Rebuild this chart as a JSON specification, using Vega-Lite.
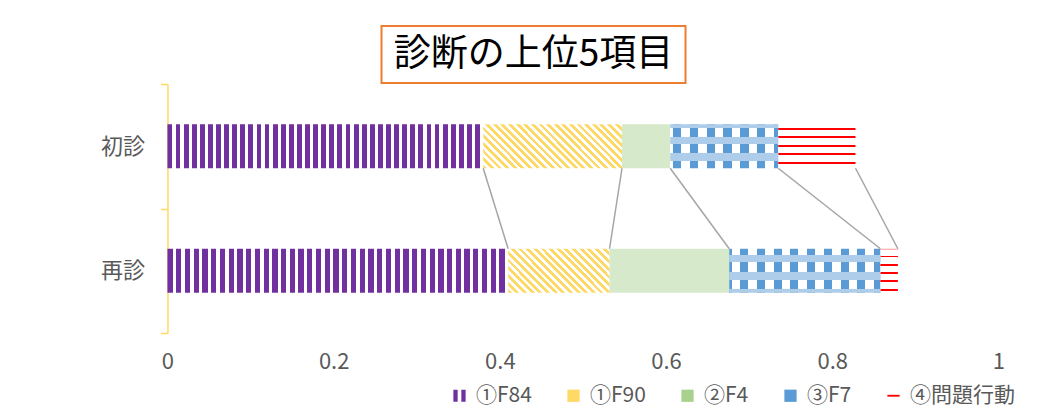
{
"$schema": "https://vega.github.io/schema/vega-lite/v6.json",
"background": "white",
"padding": {"left": 100, "top": 25, "right": 0, "bottom": 6},
"autosize": {"type": "pad"},
"config": {"font": "Noto Sans CJK JP", "view": {"stroke": null}},
"datasets": {
 "main": [
  {"group": "初診", "diag": "①F84", "value": 0.380},
  {"group": "初診", "diag": "①F90", "value": 0.167},
  {"group": "初診", "diag": "②F4", "value": 0.058},
  {"group": "初診", "diag": "③F7", "value": 0.130},
  {"group": "初診", "diag": "④問題行動", "value": 0.093},
  {"group": "再診", "diag": "①F84", "value": 0.410},
  {"group": "再診", "diag": "①F90", "value": 0.122},
  {"group": "再診", "diag": "②F4", "value": 0.144},
  {"group": "再診", "diag": "③F7", "value": 0.182},
  {"group": "再診", "diag": "④問題行動", "value": 0.021}
 ],
 "title": [{"t": "診断の上位5項目"}],
 "blank": [{"t": " "}]
},
"spacing": -12,
"center": true,
"vconcat": [
 {
  "spacing": 0,
  "hconcat": [
   {
    "data": {"name": "title"},
    "width": 304, "height": 57,
    "view": {"stroke": "#ED7D31", "strokeWidth": 2},
    "mark": {"type": "text", "fontSize": 37, "color": "#000000", "font": "Noto Sans CJK JP"},
    "encoding": {"text": {"field": "t", "type": "nominal"}}
   },
   {
    "data": {"name": "blank"},
    "width": 104, "height": 57,
    "mark": {"type": "text", "fontSize": 10, "color": "#ffffff"},
    "encoding": {"text": {"field": "t", "type": "nominal"}}
   }
  ]
 },
 {
  "data": {"name": "main"},
  "width": 831, "height": 249,
  "transform": [{"stack": "value", "groupby": ["group"], "sort": [{"field": "diag", "order": "ascending"}], "as": ["x0", "x1"]}],
  "layer": [
   {
    "mark": {"type": "bar", "height": {"band": 0.355}, "opacity": 0},
    "encoding": {
     "y": {"field": "group", "type": "nominal", "title": null,
           "scale": {"domain": ["初診", "再診"], "paddingInner": 0, "paddingOuter": 0},
           "axis": {"title": null, "domainColor": "#FFD966", "domainWidth": 1.5, "tickColor": "#FFD966", "tickWidth": 1.5, "tickSize": 7, "tickBand": "extent", "labelFontSize": 22, "labelColor": "#595959", "labelPadding": 16, "grid": false}},
     "x": {"field": "x0", "type": "quantitative", "title": null,
           "scale": {"domain": [0, 1], "nice": false},
           "axis": {"title": null, "values": [0, 0.2, 0.4, 0.6, 0.8, 1], "format": "~g", "domain": false, "ticks": false, "tickSize": 0, "grid": false, "labelFlush": false, "labelFontSize": 22, "labelColor": "#595959", "labelPadding": 18}},
     "x2": {"field": "x1"},
     "color": {"field": "diag", "type": "nominal",
               "scale": {"domain": ["①F84", "①F90", "②F4", "③F7", "④問題行動"], "range": ["#7030A0", "#FFD966", "#A9D18E", "#5B9BD5", "#FF0000"]},
               "legend": {"title": null, "orient": "none", "legendX": 282, "legendY": 359, "direction": "horizontal", "symbolType": "square", "symbolSize": 150, "symbolOpacity": 1, "labelFontSize": 21, "labelColor": "#595959", "columnPadding": 31, "labelOffset": 6, "symbolStrokeWidth": 0,
                 "encode": {"symbols": {"update": {"opacity": {"value": 1}, "shape": {"signal": "datum.value === '④問題行動' ? 'M-1,-0.15H1V0.15H-1Z' : datum.value === '①F84' ? 'M-1,-1H-0.3V1H-1ZM0.3,-1H1V1H0.3Z' : 'square'"}}}}}}
    }
   },
   {
    "mark": {"type": "bar", "height": {"band": 0.355}},
    "encoding": {
     "y": {"field": "group", "type": "nominal", "title": null},
     "x": {"field": "x0", "type": "quantitative", "title": null},
     "x2": {"field": "x1"},
     "fill": {"condition": [
      {"test": "datum.diag === '①F84'", "value": {"gradient": "linear", "x1": 0, "y1": 0, "x2": 1, "y2": 0, "stops": [
{"offset":0,"color":"#7030A0"},{"offset":0.0154,"color":"#7030A0"},{"offset":0.0154,"color":"#fff"},{"offset":0.0256,"color":"#fff"},
{"offset":0.0256,"color":"#7030A0"},{"offset":0.041,"color":"#7030A0"},{"offset":0.041,"color":"#fff"},{"offset":0.0513,"color":"#fff"},
{"offset":0.0513,"color":"#7030A0"},{"offset":0.0667,"color":"#7030A0"},{"offset":0.0667,"color":"#fff"},{"offset":0.0769,"color":"#fff"},
{"offset":0.0769,"color":"#7030A0"},{"offset":0.0923,"color":"#7030A0"},{"offset":0.0923,"color":"#fff"},{"offset":0.1026,"color":"#fff"},
{"offset":0.1026,"color":"#7030A0"},{"offset":0.1179,"color":"#7030A0"},{"offset":0.1179,"color":"#fff"},{"offset":0.1282,"color":"#fff"},
{"offset":0.1282,"color":"#7030A0"},{"offset":0.1436,"color":"#7030A0"},{"offset":0.1436,"color":"#fff"},{"offset":0.1538,"color":"#fff"},
{"offset":0.1538,"color":"#7030A0"},{"offset":0.1692,"color":"#7030A0"},{"offset":0.1692,"color":"#fff"},{"offset":0.1795,"color":"#fff"},
{"offset":0.1795,"color":"#7030A0"},{"offset":0.1949,"color":"#7030A0"},{"offset":0.1949,"color":"#fff"},{"offset":0.2051,"color":"#fff"},
{"offset":0.2051,"color":"#7030A0"},{"offset":0.2205,"color":"#7030A0"},{"offset":0.2205,"color":"#fff"},{"offset":0.2308,"color":"#fff"},
{"offset":0.2308,"color":"#7030A0"},{"offset":0.2462,"color":"#7030A0"},{"offset":0.2462,"color":"#fff"},{"offset":0.2564,"color":"#fff"},
{"offset":0.2564,"color":"#7030A0"},{"offset":0.2718,"color":"#7030A0"},{"offset":0.2718,"color":"#fff"},{"offset":0.2821,"color":"#fff"},
{"offset":0.2821,"color":"#7030A0"},{"offset":0.2974,"color":"#7030A0"},{"offset":0.2974,"color":"#fff"},{"offset":0.3077,"color":"#fff"},
{"offset":0.3077,"color":"#7030A0"},{"offset":0.3231,"color":"#7030A0"},{"offset":0.3231,"color":"#fff"},{"offset":0.3333,"color":"#fff"},
{"offset":0.3333,"color":"#7030A0"},{"offset":0.3487,"color":"#7030A0"},{"offset":0.3487,"color":"#fff"},{"offset":0.359,"color":"#fff"},
{"offset":0.359,"color":"#7030A0"},{"offset":0.3744,"color":"#7030A0"},{"offset":0.3744,"color":"#fff"},{"offset":0.3846,"color":"#fff"},
{"offset":0.3846,"color":"#7030A0"},{"offset":0.4,"color":"#7030A0"},{"offset":0.4,"color":"#fff"},{"offset":0.4103,"color":"#fff"},
{"offset":0.4103,"color":"#7030A0"},{"offset":0.4256,"color":"#7030A0"},{"offset":0.4256,"color":"#fff"},{"offset":0.4359,"color":"#fff"},
{"offset":0.4359,"color":"#7030A0"},{"offset":0.4513,"color":"#7030A0"},{"offset":0.4513,"color":"#fff"},{"offset":0.4615,"color":"#fff"},
{"offset":0.4615,"color":"#7030A0"},{"offset":0.4769,"color":"#7030A0"},{"offset":0.4769,"color":"#fff"},{"offset":0.4872,"color":"#fff"},
{"offset":0.4872,"color":"#7030A0"},{"offset":0.5026,"color":"#7030A0"},{"offset":0.5026,"color":"#fff"},{"offset":0.5128,"color":"#fff"},
{"offset":0.5128,"color":"#7030A0"},{"offset":0.5282,"color":"#7030A0"},{"offset":0.5282,"color":"#fff"},{"offset":0.5385,"color":"#fff"},
{"offset":0.5385,"color":"#7030A0"},{"offset":0.5538,"color":"#7030A0"},{"offset":0.5538,"color":"#fff"},{"offset":0.5641,"color":"#fff"},
{"offset":0.5641,"color":"#7030A0"},{"offset":0.5795,"color":"#7030A0"},{"offset":0.5795,"color":"#fff"},{"offset":0.5897,"color":"#fff"},
{"offset":0.5897,"color":"#7030A0"},{"offset":0.6051,"color":"#7030A0"},{"offset":0.6051,"color":"#fff"},{"offset":0.6154,"color":"#fff"},
{"offset":0.6154,"color":"#7030A0"},{"offset":0.6308,"color":"#7030A0"},{"offset":0.6308,"color":"#fff"},{"offset":0.641,"color":"#fff"},
{"offset":0.641,"color":"#7030A0"},{"offset":0.6564,"color":"#7030A0"},{"offset":0.6564,"color":"#fff"},{"offset":0.6667,"color":"#fff"},
{"offset":0.6667,"color":"#7030A0"},{"offset":0.6821,"color":"#7030A0"},{"offset":0.6821,"color":"#fff"},{"offset":0.6923,"color":"#fff"},
{"offset":0.6923,"color":"#7030A0"},{"offset":0.7077,"color":"#7030A0"},{"offset":0.7077,"color":"#fff"},{"offset":0.7179,"color":"#fff"},
{"offset":0.7179,"color":"#7030A0"},{"offset":0.7333,"color":"#7030A0"},{"offset":0.7333,"color":"#fff"},{"offset":0.7436,"color":"#fff"},
{"offset":0.7436,"color":"#7030A0"},{"offset":0.759,"color":"#7030A0"},{"offset":0.759,"color":"#fff"},{"offset":0.7692,"color":"#fff"},
{"offset":0.7692,"color":"#7030A0"},{"offset":0.7846,"color":"#7030A0"},{"offset":0.7846,"color":"#fff"},{"offset":0.7949,"color":"#fff"},
{"offset":0.7949,"color":"#7030A0"},{"offset":0.8103,"color":"#7030A0"},{"offset":0.8103,"color":"#fff"},{"offset":0.8205,"color":"#fff"},
{"offset":0.8205,"color":"#7030A0"},{"offset":0.8359,"color":"#7030A0"},{"offset":0.8359,"color":"#fff"},{"offset":0.8462,"color":"#fff"},
{"offset":0.8462,"color":"#7030A0"},{"offset":0.8615,"color":"#7030A0"},{"offset":0.8615,"color":"#fff"},{"offset":0.8718,"color":"#fff"},
{"offset":0.8718,"color":"#7030A0"},{"offset":0.8872,"color":"#7030A0"},{"offset":0.8872,"color":"#fff"},{"offset":0.8974,"color":"#fff"},
{"offset":0.8974,"color":"#7030A0"},{"offset":0.9128,"color":"#7030A0"},{"offset":0.9128,"color":"#fff"},{"offset":0.9231,"color":"#fff"},
{"offset":0.9231,"color":"#7030A0"},{"offset":0.9385,"color":"#7030A0"},{"offset":0.9385,"color":"#fff"},{"offset":0.9487,"color":"#fff"},
{"offset":0.9487,"color":"#7030A0"},{"offset":0.9641,"color":"#7030A0"},{"offset":0.9641,"color":"#fff"},{"offset":0.9744,"color":"#fff"},
{"offset":0.9744,"color":"#7030A0"},{"offset":0.9897,"color":"#7030A0"},{"offset":0.9897,"color":"#fff"},{"offset":1,"color":"#fff"}
      ]}},
      {"test": "datum.diag === '①F90' && datum.group === '初診'", "value": {"gradient": "linear", "x1": 0, "y1": 1, "x2": 1.1967, "y2": 0.6206, "stops": [
{"offset":0,"color":"#FFD966"},{"offset":0.0208,"color":"#FFD966"},{"offset":0.0208,"color":"#fff"},{"offset":0.0417,"color":"#fff"},
{"offset":0.0417,"color":"#FFD966"},{"offset":0.0625,"color":"#FFD966"},{"offset":0.0625,"color":"#fff"},{"offset":0.0833,"color":"#fff"},
{"offset":0.0833,"color":"#FFD966"},{"offset":0.1042,"color":"#FFD966"},{"offset":0.1042,"color":"#fff"},{"offset":0.125,"color":"#fff"},
{"offset":0.125,"color":"#FFD966"},{"offset":0.1458,"color":"#FFD966"},{"offset":0.1458,"color":"#fff"},{"offset":0.1667,"color":"#fff"},
{"offset":0.1667,"color":"#FFD966"},{"offset":0.1875,"color":"#FFD966"},{"offset":0.1875,"color":"#fff"},{"offset":0.2083,"color":"#fff"},
{"offset":0.2083,"color":"#FFD966"},{"offset":0.2292,"color":"#FFD966"},{"offset":0.2292,"color":"#fff"},{"offset":0.25,"color":"#fff"},
{"offset":0.25,"color":"#FFD966"},{"offset":0.2708,"color":"#FFD966"},{"offset":0.2708,"color":"#fff"},{"offset":0.2917,"color":"#fff"},
{"offset":0.2917,"color":"#FFD966"},{"offset":0.3125,"color":"#FFD966"},{"offset":0.3125,"color":"#fff"},{"offset":0.3333,"color":"#fff"},
{"offset":0.3333,"color":"#FFD966"},{"offset":0.3542,"color":"#FFD966"},{"offset":0.3542,"color":"#fff"},{"offset":0.375,"color":"#fff"},
{"offset":0.375,"color":"#FFD966"},{"offset":0.3958,"color":"#FFD966"},{"offset":0.3958,"color":"#fff"},{"offset":0.4167,"color":"#fff"},
{"offset":0.4167,"color":"#FFD966"},{"offset":0.4375,"color":"#FFD966"},{"offset":0.4375,"color":"#fff"},{"offset":0.4583,"color":"#fff"},
{"offset":0.4583,"color":"#FFD966"},{"offset":0.4792,"color":"#FFD966"},{"offset":0.4792,"color":"#fff"},{"offset":0.5,"color":"#fff"},
{"offset":0.5,"color":"#FFD966"},{"offset":0.5208,"color":"#FFD966"},{"offset":0.5208,"color":"#fff"},{"offset":0.5417,"color":"#fff"},
{"offset":0.5417,"color":"#FFD966"},{"offset":0.5625,"color":"#FFD966"},{"offset":0.5625,"color":"#fff"},{"offset":0.5833,"color":"#fff"},
{"offset":0.5833,"color":"#FFD966"},{"offset":0.6042,"color":"#FFD966"},{"offset":0.6042,"color":"#fff"},{"offset":0.625,"color":"#fff"},
{"offset":0.625,"color":"#FFD966"},{"offset":0.6458,"color":"#FFD966"},{"offset":0.6458,"color":"#fff"},{"offset":0.6667,"color":"#fff"},
{"offset":0.6667,"color":"#FFD966"},{"offset":0.6875,"color":"#FFD966"},{"offset":0.6875,"color":"#fff"},{"offset":0.7083,"color":"#fff"},
{"offset":0.7083,"color":"#FFD966"},{"offset":0.7292,"color":"#FFD966"},{"offset":0.7292,"color":"#fff"},{"offset":0.75,"color":"#fff"},
{"offset":0.75,"color":"#FFD966"},{"offset":0.7708,"color":"#FFD966"},{"offset":0.7708,"color":"#fff"},{"offset":0.7917,"color":"#fff"},
{"offset":0.7917,"color":"#FFD966"},{"offset":0.8125,"color":"#FFD966"},{"offset":0.8125,"color":"#fff"},{"offset":0.8333,"color":"#fff"},
{"offset":0.8333,"color":"#FFD966"},{"offset":0.8542,"color":"#FFD966"},{"offset":0.8542,"color":"#fff"},{"offset":0.875,"color":"#fff"},
{"offset":0.875,"color":"#FFD966"},{"offset":0.8958,"color":"#FFD966"},{"offset":0.8958,"color":"#fff"},{"offset":0.9167,"color":"#fff"},
{"offset":0.9167,"color":"#FFD966"},{"offset":0.9375,"color":"#FFD966"},{"offset":0.9375,"color":"#fff"},{"offset":0.9583,"color":"#fff"},
{"offset":0.9583,"color":"#FFD966"},{"offset":0.9792,"color":"#FFD966"},{"offset":0.9792,"color":"#fff"},{"offset":1,"color":"#fff"}
      ]}},
      {"test": "datum.diag === '①F90'", "value": {"gradient": "linear", "x1": 0, "y1": 1, "x2": 1.2067, "y2": 0.4763, "stops": [
{"offset":0,"color":"#FFD966"},{"offset":0.0263,"color":"#FFD966"},{"offset":0.0263,"color":"#fff"},{"offset":0.0526,"color":"#fff"},
{"offset":0.0526,"color":"#FFD966"},{"offset":0.0789,"color":"#FFD966"},{"offset":0.0789,"color":"#fff"},{"offset":0.1053,"color":"#fff"},
{"offset":0.1053,"color":"#FFD966"},{"offset":0.1316,"color":"#FFD966"},{"offset":0.1316,"color":"#fff"},{"offset":0.1579,"color":"#fff"},
{"offset":0.1579,"color":"#FFD966"},{"offset":0.1842,"color":"#FFD966"},{"offset":0.1842,"color":"#fff"},{"offset":0.2105,"color":"#fff"},
{"offset":0.2105,"color":"#FFD966"},{"offset":0.2368,"color":"#FFD966"},{"offset":0.2368,"color":"#fff"},{"offset":0.2632,"color":"#fff"},
{"offset":0.2632,"color":"#FFD966"},{"offset":0.2895,"color":"#FFD966"},{"offset":0.2895,"color":"#fff"},{"offset":0.3158,"color":"#fff"},
{"offset":0.3158,"color":"#FFD966"},{"offset":0.3421,"color":"#FFD966"},{"offset":0.3421,"color":"#fff"},{"offset":0.3684,"color":"#fff"},
{"offset":0.3684,"color":"#FFD966"},{"offset":0.3947,"color":"#FFD966"},{"offset":0.3947,"color":"#fff"},{"offset":0.4211,"color":"#fff"},
{"offset":0.4211,"color":"#FFD966"},{"offset":0.4474,"color":"#FFD966"},{"offset":0.4474,"color":"#fff"},{"offset":0.4737,"color":"#fff"},
{"offset":0.4737,"color":"#FFD966"},{"offset":0.5,"color":"#FFD966"},{"offset":0.5,"color":"#fff"},{"offset":0.5263,"color":"#fff"},
{"offset":0.5263,"color":"#FFD966"},{"offset":0.5526,"color":"#FFD966"},{"offset":0.5526,"color":"#fff"},{"offset":0.5789,"color":"#fff"},
{"offset":0.5789,"color":"#FFD966"},{"offset":0.6053,"color":"#FFD966"},{"offset":0.6053,"color":"#fff"},{"offset":0.6316,"color":"#fff"},
{"offset":0.6316,"color":"#FFD966"},{"offset":0.6579,"color":"#FFD966"},{"offset":0.6579,"color":"#fff"},{"offset":0.6842,"color":"#fff"},
{"offset":0.6842,"color":"#FFD966"},{"offset":0.7105,"color":"#FFD966"},{"offset":0.7105,"color":"#fff"},{"offset":0.7368,"color":"#fff"},
{"offset":0.7368,"color":"#FFD966"},{"offset":0.7632,"color":"#FFD966"},{"offset":0.7632,"color":"#fff"},{"offset":0.7895,"color":"#fff"},
{"offset":0.7895,"color":"#FFD966"},{"offset":0.8158,"color":"#FFD966"},{"offset":0.8158,"color":"#fff"},{"offset":0.8421,"color":"#fff"},
{"offset":0.8421,"color":"#FFD966"},{"offset":0.8684,"color":"#FFD966"},{"offset":0.8684,"color":"#fff"},{"offset":0.8947,"color":"#fff"},
{"offset":0.8947,"color":"#FFD966"},{"offset":0.9211,"color":"#FFD966"},{"offset":0.9211,"color":"#fff"},{"offset":0.9474,"color":"#fff"},
{"offset":0.9474,"color":"#FFD966"},{"offset":0.9737,"color":"#FFD966"},{"offset":0.9737,"color":"#fff"},{"offset":1,"color":"#fff"}
      ]}},
      {"test": "datum.diag === '②F4'", "value": "#D6E9CA"},
      {"test": "datum.diag === '③F7' && datum.group === '初診'", "value": {"gradient": "linear", "x1": 0, "y1": 0, "x2": 1, "y2": 0, "stops": [
{"offset":0,"color":"#fff"},{"offset":0.026,"color":"#fff"},{"offset":0.026,"color":"#5B9BD5"},{"offset":0.103,"color":"#5B9BD5"},
{"offset":0.103,"color":"#fff"},{"offset":0.181,"color":"#fff"},{"offset":0.181,"color":"#5B9BD5"},{"offset":0.258,"color":"#5B9BD5"},
{"offset":0.258,"color":"#fff"},{"offset":0.337,"color":"#fff"},{"offset":0.337,"color":"#5B9BD5"},{"offset":0.414,"color":"#5B9BD5"},
{"offset":0.414,"color":"#fff"},{"offset":0.493,"color":"#fff"},{"offset":0.493,"color":"#5B9BD5"},{"offset":0.569,"color":"#5B9BD5"},
{"offset":0.569,"color":"#fff"},{"offset":0.648,"color":"#fff"},{"offset":0.648,"color":"#5B9BD5"},{"offset":0.725,"color":"#5B9BD5"},
{"offset":0.725,"color":"#fff"},{"offset":0.804,"color":"#fff"},{"offset":0.804,"color":"#5B9BD5"},{"offset":0.881,"color":"#5B9BD5"},
{"offset":0.881,"color":"#fff"},{"offset":0.959,"color":"#fff"},{"offset":0.959,"color":"#5B9BD5"},{"offset":1,"color":"#5B9BD5"}
      ]}},
      {"test": "datum.diag === '③F7'", "value": {"gradient": "linear", "x1": 0, "y1": 0, "x2": 1, "y2": 0, "stops": [
{"offset":0,"color":"#5B9BD5"},{"offset":0.016,"color":"#5B9BD5"},{"offset":0.016,"color":"#fff"},{"offset":0.072,"color":"#fff"},
{"offset":0.072,"color":"#5B9BD5"},{"offset":0.127,"color":"#5B9BD5"},{"offset":0.127,"color":"#fff"},{"offset":0.183,"color":"#fff"},
{"offset":0.183,"color":"#5B9BD5"},{"offset":0.237,"color":"#5B9BD5"},{"offset":0.237,"color":"#fff"},{"offset":0.293,"color":"#fff"},
{"offset":0.293,"color":"#5B9BD5"},{"offset":0.348,"color":"#5B9BD5"},{"offset":0.348,"color":"#fff"},{"offset":0.404,"color":"#fff"},
{"offset":0.404,"color":"#5B9BD5"},{"offset":0.458,"color":"#5B9BD5"},{"offset":0.458,"color":"#fff"},{"offset":0.514,"color":"#fff"},
{"offset":0.514,"color":"#5B9BD5"},{"offset":0.569,"color":"#5B9BD5"},{"offset":0.569,"color":"#fff"},{"offset":0.625,"color":"#fff"},
{"offset":0.625,"color":"#5B9BD5"},{"offset":0.68,"color":"#5B9BD5"},{"offset":0.68,"color":"#fff"},{"offset":0.736,"color":"#fff"},
{"offset":0.736,"color":"#5B9BD5"},{"offset":0.791,"color":"#5B9BD5"},{"offset":0.791,"color":"#fff"},{"offset":0.846,"color":"#fff"},
{"offset":0.846,"color":"#5B9BD5"},{"offset":0.901,"color":"#5B9BD5"},{"offset":0.901,"color":"#fff"},{"offset":0.957,"color":"#fff"},
{"offset":0.957,"color":"#5B9BD5"},{"offset":1,"color":"#5B9BD5"}
      ]}},
      {"test": "datum.group === '初診'", "value": {"gradient": "linear", "x1": 0, "y1": 0, "x2": 0, "y2": 1, "stops": [
{"offset":0,"color":"#fff"},{"offset":0.084,"color":"#fff"},{"offset":0.084,"color":"#FF0000"},{"offset":0.13,"color":"#FF0000"},
{"offset":0.13,"color":"#fff"},{"offset":0.266,"color":"#fff"},{"offset":0.266,"color":"#FF0000"},{"offset":0.312,"color":"#FF0000"},
{"offset":0.312,"color":"#fff"},{"offset":0.461,"color":"#fff"},{"offset":0.461,"color":"#FF0000"},{"offset":0.507,"color":"#FF0000"},
{"offset":0.507,"color":"#fff"},{"offset":0.652,"color":"#fff"},{"offset":0.652,"color":"#FF0000"},{"offset":0.698,"color":"#FF0000"},
{"offset":0.698,"color":"#fff"},{"offset":0.857,"color":"#fff"},{"offset":0.857,"color":"#FF0000"},{"offset":0.903,"color":"#FF0000"},
{"offset":0.903,"color":"#fff"},{"offset":1,"color":"#fff"}
      ]}}
     ],
     "value": {"gradient": "linear", "x1": 0, "y1": 0, "x2": 0, "y2": 1, "stops": [
{"offset":0,"color":"#FFB4B4"},{"offset":0.03,"color":"#FFB4B4"},{"offset":0.03,"color":"#fff"},{"offset":0.156,"color":"#fff"},
{"offset":0.156,"color":"#FF0000"},{"offset":0.2,"color":"#FF0000"},{"offset":0.2,"color":"#fff"},{"offset":0.356,"color":"#fff"},
{"offset":0.356,"color":"#FF0000"},{"offset":0.4,"color":"#FF0000"},{"offset":0.4,"color":"#fff"},{"offset":0.526,"color":"#fff"},
{"offset":0.526,"color":"#FF0000"},{"offset":0.57,"color":"#FF0000"},{"offset":0.57,"color":"#fff"},{"offset":0.711,"color":"#fff"},
{"offset":0.711,"color":"#FF0000"},{"offset":0.755,"color":"#FF0000"},{"offset":0.755,"color":"#fff"},{"offset":0.911,"color":"#fff"},
{"offset":0.911,"color":"#FF0000"},{"offset":0.955,"color":"#FF0000"},{"offset":0.955,"color":"#fff"},{"offset":1,"color":"#fff"}
     ]}}
    }
   },
   {
    "transform": [{"filter": "datum.diag === '③F7'"}],
    "mark": {"type": "bar", "height": {"band": 0.355}},
    "encoding": {
     "y": {"field": "group", "type": "nominal", "title": null},
     "x": {"field": "x0", "type": "quantitative", "title": null},
     "x2": {"field": "x1"},
     "fill": {"condition": {"test": "datum.group === '初診'", "value": {"gradient": "linear", "x1": 0, "y1": 0, "x2": 0, "y2": 1, "stops": [
{"offset":0,"color":"#ADCDEA"},{"offset":0.08,"color":"#ADCDEA"},{"offset":0.08,"color":"rgba(255,255,255,0)"},{"offset":0.295,"color":"rgba(255,255,255,0)"},
{"offset":0.295,"color":"#ADCDEA"},{"offset":0.46,"color":"#ADCDEA"},{"offset":0.46,"color":"rgba(255,255,255,0)"},{"offset":0.65,"color":"rgba(255,255,255,0)"},
{"offset":0.65,"color":"#ADCDEA"},{"offset":0.84,"color":"#ADCDEA"},{"offset":0.84,"color":"rgba(255,255,255,0)"},{"offset":1,"color":"rgba(255,255,255,0)"}
      ]}},
      "value": {"gradient": "linear", "x1": 0, "y1": 0, "x2": 0, "y2": 1, "stops": [
{"offset":0,"color":"rgba(255,255,255,0)"},{"offset":0.147,"color":"rgba(255,255,255,0)"},{"offset":0.147,"color":"#ADCDEA"},{"offset":0.311,"color":"#ADCDEA"},
{"offset":0.311,"color":"rgba(255,255,255,0)"},{"offset":0.533,"color":"rgba(255,255,255,0)"},{"offset":0.533,"color":"#ADCDEA"},{"offset":0.703,"color":"#ADCDEA"},
{"offset":0.703,"color":"rgba(255,255,255,0)"},{"offset":0.911,"color":"rgba(255,255,255,0)"},{"offset":0.911,"color":"#ADCDEA"},{"offset":1,"color":"#ADCDEA"}
      ]}}
    }
   },
   {
    "transform": [{"pivot": "group", "value": "x1", "groupby": ["diag"]}],
    "mark": {"type": "rule", "color": "#A5A5A5", "strokeWidth": 1.5, "yOffset": 22, "y2Offset": -22},
    "encoding": {
     "x": {"field": "初診", "type": "quantitative", "title": null},
     "x2": {"field": "再診"},
     "y": {"datum": "初診", "type": "nominal"},
     "y2": {"datum": "再診"}
    }
   }
  ]
 }
]
}
